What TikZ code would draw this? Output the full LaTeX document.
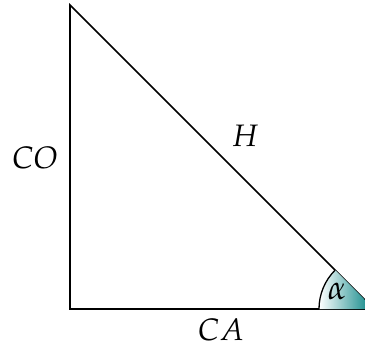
\documentclass[tikz,border=0pt]{standalone}
\usepackage{mathpazo}
\usepackage{xcolor}
\usetikzlibrary{calc}
\definecolor{wedgeteal}{RGB}{0,128,128}

\begin{document}
\begin{tikzpicture}[x=1pt,y=1pt,every node/.style={font=\fontsize{31}{38}\selectfont}]
  \useasboundingbox (0,0) rectangle (365,349);
  \coordinate (top) at (70,344);
  \coordinate (corner) at (70,40);
  \coordinate (apex) at (374,40);
  \draw[line width=1.6pt] (top) -- (corner) -- (apex) -- cycle;
  \shade[left color=white,right color=wedgeteal] (apex) -- ++(180:55) arc[start angle=180,end angle=135,radius=55] -- cycle;
  \draw[line width=1.3pt] (apex) ++(180:55) arc[start angle=180,end angle=135,radius=55];
  \node (co) at (35,191) {$CO$};
  \node (h) at (245,213) {$H$};
  \node (ca) at (221,19) {$CA$};
  \node[font=\fontsize{34}{40}\selectfont] (alpha) at (337,58) {$\alpha$};
\end{tikzpicture}
\end{document}
